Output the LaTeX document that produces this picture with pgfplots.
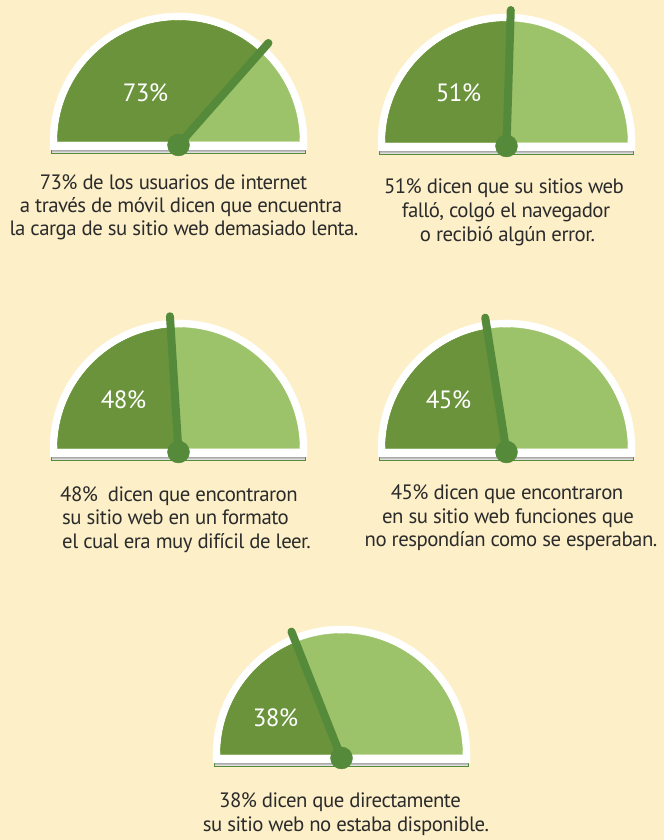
\documentclass[border=0pt]{standalone}
\usepackage{pgfplots}
\pgfplotsset{compat=1.18}
\usepackage{fontspec}
\setmainfont{PT Sans}[LetterSpace=-2.5]

\definecolor{bg}{HTML}{FDF0C9}
\definecolor{darkg}{HTML}{6A933B}
\definecolor{lightg}{HTML}{9CC26A}
\definecolor{needleg}{HTML}{548A3A}
\definecolor{txt}{HTML}{2B2B2B}
\definecolor{shade}{HTML}{EEDDB4}

\tikzset{caption line/.style={anchor=base, inner sep=0pt, text=txt,
    font=\fontsize{20.8}{20.8}\selectfont}}

\begin{document}
\begin{tikzpicture}
\fill[bg] (0,0) rectangle (664pt,840pt);
\begin{axis}[
  anchor=south west, at={(0,0)},
  x=1pt, y=1pt,
  xmin=0, xmax=664, ymin=0, ymax=840,
  hide axis, clip=false,
]
% one gauge per row: dial, filled share, needle and hub
% cx, cy = hub position (px from left / from bottom), pct = share, lx, ly = offset of the % label
\addplot[
  scatter, only marks, mark=*, mark size=11pt, color=needleg,
  visualization depends on={value \thisrow{pct}\as\pct},
  visualization depends on={value \thisrow{lx}\as\lx},
  visualization depends on={value \thisrow{ly}\as\ly},
  scatter/@pre marker code/.code={
    \pgfmathsetmacro\ang{180-1.8*\pct}
    \fill[shade] (-127pt,-8pt) rectangle (127pt,-4pt);
    \fill[white] (-128.5pt,-5pt) -- (-128.5pt,3.5pt)
      arc[start angle=180, end angle=0, radius=128.5pt] -- (128.5pt,-5pt) -- cycle;
    \fill[lightg] (-121pt,3.5pt) arc[start angle=180, end angle=0, radius=121pt] -- cycle;
    \fill[darkg] (0pt,3.5pt) -- (-121pt,3.5pt)
      arc[start angle=180, end angle=\ang, radius=121pt] -- cycle;
    \node[text=white, inner sep=0pt, font=\fontsize{25}{25}\selectfont]
      at (\lx pt,\ly pt) {\pct\%};
    \draw[needleg, line width=8pt, line cap=round] (0pt,0pt) -- ++(\ang:136pt);
    \scope[draw=needleg, fill=needleg]
  },
  scatter/@post marker code/.code={\endscope},
] table[x=cx, y=cy] {
cx     cy   pct  lx   ly
178.5  695  73  -33   52
506.5  694  51  -48   53
178.5  388  48  -55   52
506.5  388  45  -58   52
341.5   82  38  -66   40
};

% captions
\node[caption line] at (173.5,650) {73\% de los usuarios de internet};
\node[caption line] at (181,627) {a través de móvil dicen que encuentra};
\node[caption line] at (184,604) {la carga de su sitio web demasiado lenta.};

\node[caption line] at (504,646) {51\% dicen que su sitios web};
\node[caption line] at (506,622) {falló, colgó el navegador};
\node[caption line] at (507.5,598) {o recibió algún error.};

\node[caption line, anchor=base west] at (60,338) {48\%\ \ dicen que encontraron};
\node[caption line, anchor=base west] at (62,315) {su sitio web en un formato};
\node[caption line, anchor=base west] at (62,291) {el cual era muy difícil de leer.};

\node[caption line] at (507,340) {45\% dicen que encontraron};
\node[caption line] at (508,316) {en su sitio web funciones que};
\node[caption line] at (511,293) {no respondían como se esperaban.};

\node[caption line] at (340,32) {38\% dicen que directamente};
\node[caption line] at (346,8) {su sitio web no estaba disponible.};
\end{axis}
\end{tikzpicture}
\end{document}
